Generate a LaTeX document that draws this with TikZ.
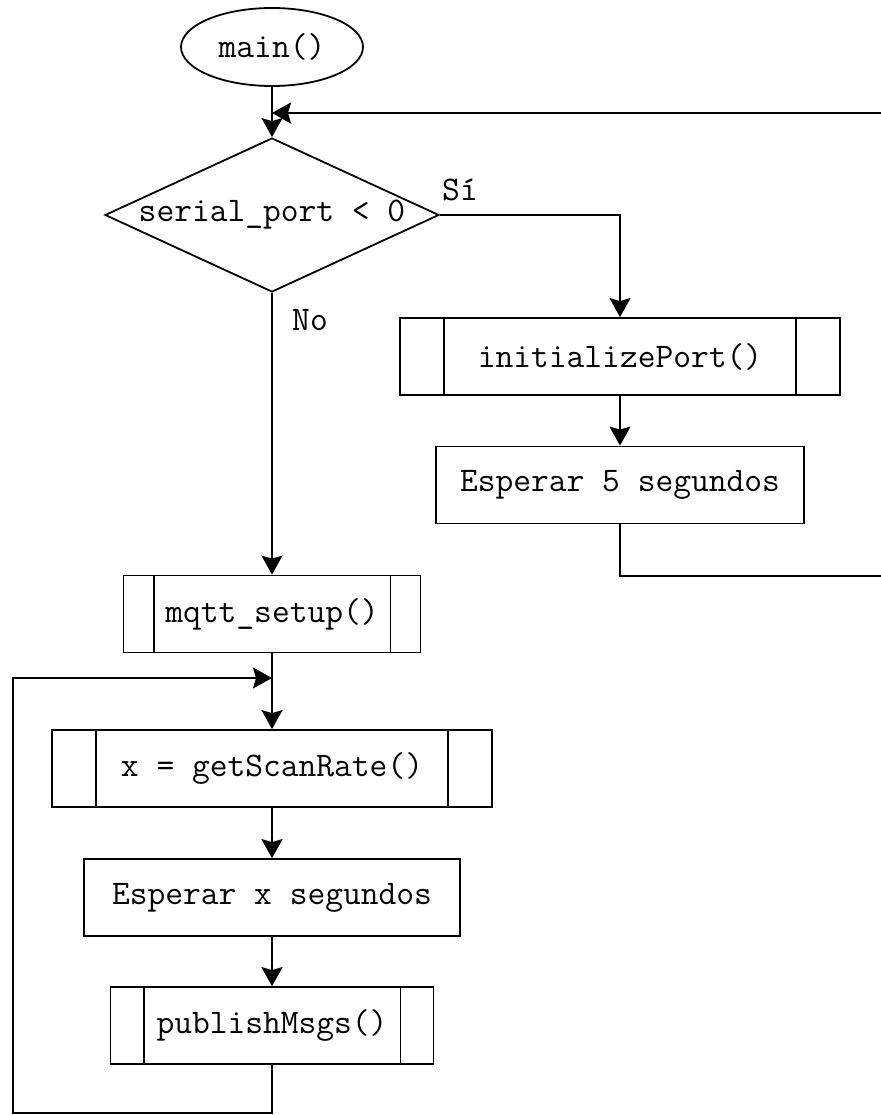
\documentclass[tikz,border=0pt]{standalone}
\usepackage{fontspec}
\usetikzlibrary{shapes.geometric,arrows.meta}
\begin{document}
\begin{tikzpicture}[x=1pt,y=-1pt,line width=1.8pt,
  every node/.style={font=\fontsize{34.5}{40}\selectfont\ttfamily,inner sep=0pt},
  box/.style={draw,rectangle,minimum width=#1,minimum height=77},
  lbl/.style={font=\fontsize{34.5}{40}\selectfont\ttfamily},
  arr/.style={-{Stealth[length=19pt,width=21pt,inset=3pt]}}]
\path[use as bounding box,fill=white] (0,0) rectangle (880,1115);
% nodes
\node[ellipse,draw,minimum width=182,minimum height=78] (main) at (272,47) {main()};
\node[diamond,draw,aspect=2.17,minimum width=334,minimum height=154] (dec) at (272,215) {serial\_port < 0};
\node[box=440] (init) at (620,356.5) {initializePort()};
\node[box=368] (esp5) at (620,485) {Esperar 5 segundos};
\node[box=297] (mqtt) at (272,614) {mqtt\_setup()};
\node[box=440] (scan) at (272,768.5) {x = getScanRate()};
\node[box=376] (espx) at (272,897.5) {Esperar x segundos};
\node[box=323] (pub) at (272,1025.5) {publishMsgs()};
\node[lbl] (si) at (460,190) {Sí};
\node[lbl] (no) at (310,320) {No};
% subroutine inner bars
\draw ([xshift=45]init.north west) -- ([xshift=45]init.south west);
\draw ([xshift=-45]init.north east) -- ([xshift=-45]init.south east);
\draw ([xshift=31]mqtt.north west) -- ([xshift=31]mqtt.south west);
\draw ([xshift=-31]mqtt.north east) -- ([xshift=-31]mqtt.south east);
\draw ([xshift=45]scan.north west) -- ([xshift=45]scan.south west);
\draw ([xshift=-45]scan.north east) -- ([xshift=-45]scan.south east);
\draw ([xshift=34]pub.north west) -- ([xshift=34]pub.south west);
\draw ([xshift=-34]pub.north east) -- ([xshift=-34]pub.south east);
% coordinates
\coordinate (j1) at (272,113);
\coordinate (r1) at (892,576);
\coordinate (r2) at (892,113);
\coordinate (j2) at (272,678);
\coordinate (b1) at (272,1113);
\coordinate (b2) at (13,1113);
\coordinate (b3) at (13,678);
% connectors
\draw[arr] (main) -- (dec);
\draw[arr] (dec.east) -| (init.north);
\draw[arr] (init) -- (esp5);
\draw[arr] (esp5.south) |- (r1) -- (r2) -- (j1);
\draw[arr] (dec.south) -- (mqtt.north);
\draw[arr] (mqtt) -- (scan);
\draw[arr] (scan) -- (espx);
\draw[arr] (espx) -- (pub);
\draw[arr] (pub.south) -- (b1) -- (b2) -- (b3) -- (j2);
\end{tikzpicture}
\end{document}
